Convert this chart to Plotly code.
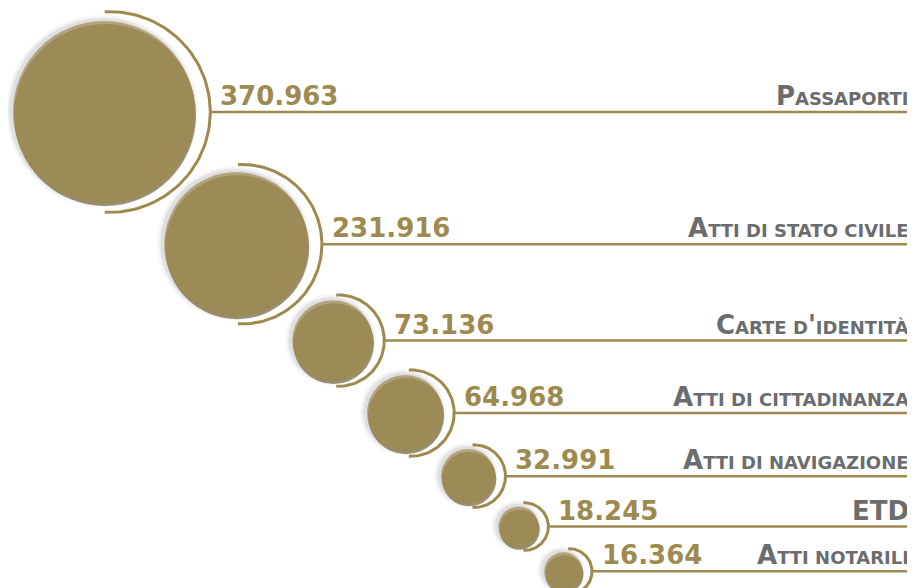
import numpy as np
import plotly.graph_objects as go

# Documents issued, by type
categories = ["Passaporti", "Atti di stato civile", "Carte d'identità",
              "Atti di cittadinanza", "Atti di navigazione", "ETD", "Atti notarili"]
values = [370963, 231916, 73136, 64968, 32991, 18245, 16364]

# the page body has an 8px margin: size the figure to the visible window
# and let data units equal page pixels
PAGE_W, PAGE_H, BODY = 915, 588, 8
W, H = PAGE_W - BODY, PAGE_H - BODY

GOLD = "#9e8a4f"
GOLD_DARK = "#76653a"
GREY = "#6b6c6e"
LABEL_FONT = "DejaVu Sans"


def small_caps(s, small=18):
    """Capitals stay full size, lowercase runs become smaller capitals."""
    out, run = "", ""
    for ch in s:
        if ch.islower():
            run += ch.upper()
        else:
            if run:
                out += f'<span style="font-size:{small}px">{run}</span>'
                run = ""
            out += ch if ch != " " else f'<span style="font-size:{small}px"> </span>'
    if run:
        out += f'<span style="font-size:{small}px">{run}</span>'
    return out


# bubble area proportional to the value
MAX_R = 91
radii = [MAX_R * np.sqrt(v / max(values)) for v in values]

# centres run down a 45 degree diagonal, neighbours spaced by their radii plus a gap
GAP = 24
cx, cy = [104.0], [112.0]
for i in range(1, len(values)):
    step = (radii[i - 1] + radii[i] + GAP) / np.sqrt(2)
    cx.append(cx[-1] + step)
    cy.append(cy[-1] + step)

fig = go.Figure()

# soft shadow round each bubble
for grow, alpha in [(10, 0.06), (6, 0.08), (3, 0.10)]:
    fig.add_trace(go.Scatter(
        x=[x - 2 for x in cx], y=[y - 1 for y in cy], mode="markers",
        marker=dict(size=[2 * r + grow for r in radii], color=f"rgba(60,60,70,{alpha})",
                    line=dict(width=0)),
        hoverinfo="skip", showlegend=False))

# darker rim at the bottom, then the bubble itself
fig.add_trace(go.Scatter(
    x=[x + 1 for x in cx], y=[y + 3 for y in cy], mode="markers",
    marker=dict(size=[2 * r for r in radii], color=GOLD_DARK, line=dict(width=0)),
    hoverinfo="skip", showlegend=False))
fig.add_trace(go.Scatter(
    x=cx, y=cy, mode="markers",
    marker=dict(size=[2 * r for r in radii], color=GOLD, line=dict(width=0)),
    customdata=values, text=categories,
    hovertemplate="%{text}: %{customdata:,}<extra></extra>", showlegend=False))

# crescent arcs and leader lines
arc_x, arc_y, line_x, line_y = [], [], [], []
theta = np.radians(np.linspace(-93, 93, 80))
for x0, y0, r in zip(cx, cy, radii):
    R = r * 1.08 + 2
    ax = x0 + 6
    arc_x += list(ax + R * np.cos(theta)) + [None]
    arc_y += list(y0 - R * np.sin(theta)) + [None]
    line_x += [ax + R, PAGE_W, None]
    line_y += [y0, y0, None]

fig.add_trace(go.Scatter(x=arc_x, y=arc_y, mode="lines",
                         line=dict(color=GOLD, width=3), hoverinfo="skip", showlegend=False))
fig.add_trace(go.Scatter(x=line_x, y=line_y, mode="lines",
                         line=dict(color=GOLD, width=2.5), hoverinfo="skip", showlegend=False))

for x0, y0, r, v, cat in zip(cx, cy, radii, values, categories):
    R = r * 1.08 + 2
    fig.add_annotation(x=x0 + 6 + R + 8, y=y0 + 1, xanchor="left", yanchor="bottom",
                       text=f"{v:,}".replace(",", "."), showarrow=False,
                       font=dict(family="DejaVu Sans", size=26, color=GOLD, weight="bold"))
    fig.add_annotation(x=1, xref="paper", xshift=-4, y=y0 + 1, xanchor="right", yanchor="bottom",
                       text=small_caps(cat), showarrow=False,
                       font=dict(family=LABEL_FONT, size=26, color=GREY, weight="bold"))

fig.update_xaxes(range=[BODY, PAGE_W], visible=False, fixedrange=True)
fig.update_yaxes(range=[PAGE_H, BODY], visible=False, fixedrange=True)
fig.update_layout(width=W, height=H, margin=dict(l=0, r=0, t=0, b=0),
                  plot_bgcolor="white", paper_bgcolor="white", showlegend=False)

fig.write_html("out.html")
